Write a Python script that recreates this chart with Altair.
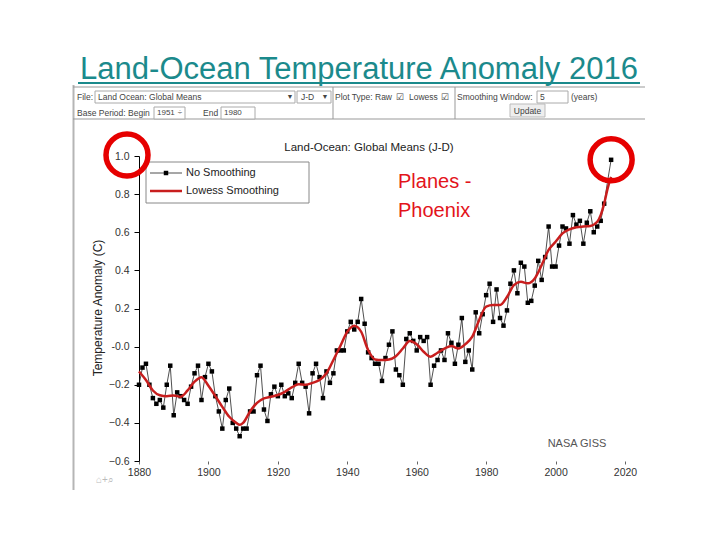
import altair as alt
import pandas as pd

FONT = "Liberation Sans"

# ---- data ----
YEARS = list(range(1880, 2017))
ANOMALY = [
    -0.20, -0.11, -0.09, -0.20, -0.27, -0.30, -0.28, -0.32, -0.20, -0.10,   # 1880s
    -0.36, -0.24, -0.26, -0.28, -0.30, -0.21, -0.14, -0.10, -0.28, -0.16,   # 1890s
    -0.09, -0.13, -0.26, -0.34, -0.43, -0.28, -0.22, -0.40, -0.43, -0.47,   # 1900s
    -0.43, -0.43, -0.34, -0.34, -0.15, -0.10, -0.33, -0.39, -0.25, -0.21,   # 1910s
    -0.26, -0.20, -0.26, -0.245, -0.27, -0.19, -0.09, -0.19, -0.21, -0.35,  # 1920s
    -0.14, -0.09, -0.16, -0.27, -0.13, -0.19, -0.14, -0.02, -0.02, -0.02,   # 1930s
    0.08, 0.13, 0.09, 0.13, 0.25, 0.12, -0.03, -0.06, -0.09, -0.09,         # 1940s
    -0.18, -0.06, 0.01, 0.08, -0.12, -0.15, -0.20, 0.04, 0.07, 0.03,        # 1950s
    -0.02, 0.05, 0.03, 0.05, -0.20, -0.10, -0.07, -0.02, -0.07, 0.07,       # 1960s
    0.02, -0.09, 0.01, 0.15, -0.08, -0.02, -0.12, 0.18, 0.07, 0.17,         # 1970s
    0.27, 0.33, 0.13, 0.30, 0.15, 0.11, 0.19, 0.33, 0.40, 0.28,             # 1980s
    0.44, 0.42, 0.23, 0.24, 0.32, 0.45, 0.35, 0.47, 0.63, 0.42,             # 1990s
    0.42, 0.53, 0.63, 0.62, 0.54, 0.69, 0.64, 0.66, 0.54, 0.65,             # 2000s
    0.71, 0.60, 0.63, 0.66, 0.75, 0.87, 0.98,                               # 2010s
]
LOWESS_YEARS = [1880, 1882, 1884, 1886, 1888, 1890, 1892, 1894, 1896, 1898,
                1900, 1902, 1904, 1906, 1908, 1909, 1910, 1912, 1914, 1916,
                1918, 1920, 1922, 1924, 1926, 1928, 1930, 1932, 1934, 1936,
                1938, 1940, 1942, 1944, 1946, 1948, 1950, 1952, 1954, 1956,
                1958, 1960, 1962, 1964, 1966, 1968, 1970, 1972, 1974, 1976,
                1978, 1980, 1982, 1984, 1986, 1988, 1990, 1992, 1994, 1996,
                1998, 2000, 2002, 2004, 2006, 2008, 2010, 2012, 2013, 2014,
                2015, 2016]
LOWESS = [-0.13, -0.175, -0.23, -0.255, -0.26, -0.256, -0.263, -0.23, -0.184, -0.16,
          -0.205, -0.26, -0.316, -0.368, -0.40, -0.41, -0.40, -0.34, -0.295, -0.272,
          -0.263, -0.254, -0.237, -0.214, -0.198, -0.20, -0.19, -0.175, -0.14, -0.07,
          0.003, 0.078, 0.11, 0.078, -0.018, -0.067, -0.07, -0.067, -0.05, -0.01,
          0.03, 0.013, -0.027, -0.053, -0.032, -0.01, 0.003, -0.01, 0.013, 0.052,
          0.14, 0.21, 0.218, 0.218, 0.26, 0.323, 0.34, 0.332, 0.358, 0.428,
          0.507, 0.55, 0.594, 0.615, 0.626, 0.63, 0.633, 0.655, 0.69, 0.75,
          0.83, 0.89]
X_TICKS = [1880, 1900, 1920, 1940, 1960, 1980, 2000, 2020]
Y_TICKS = [-0.6, -0.4, -0.2, 0.0, 0.2, 0.4, 0.6, 0.8, 1.0]

df = pd.DataFrame({"year": YEARS, "anom": ANOMALY})
lw = pd.DataFrame({"year": LOWESS_YEARS, "anom": LOWESS})
last = df.tail(1)
one = pd.DataFrame({"k": [0]})

xs = alt.Scale(domain=[1880, 2020], nice=False, zero=False)
ys = alt.Scale(domain=[-0.6, 1.0], nice=False, zero=False)

X_AXIS = alt.Axis(values=X_TICKS, format="d", domain=False, grid=False, tickSize=3,
                  tickColor="#666", labelFontSize=10.5, labelColor="#333",
                  labelPadding=3, labelFont=FONT, title=None, tickCount=30,
                  labelFlush=False, labelOverlap=False)
Y_AXIS = alt.Axis(values=Y_TICKS, grid=False, domainColor="#000", tickColor="#000",
                  tickSize=5, labelPadding=5, labelFontSize=10.5, labelColor="#333",
                  labelFont=FONT, title=None, labelFlush=False, labelOverlap=False,
                  tickCount=30,
                  labelExpr="abs(datum.value) < 1e-9 ? '-0.0' : format(datum.value, '.1f')")


def txt(s, x, y, size, color="#444", align="left", baseline="middle", **kw):
    return alt.Chart(one).mark_text(text=s, align=align, baseline=baseline,
                                    fontSize=size, color=color, font=FONT, **kw
                                    ).encode(x=alt.value(x), y=alt.value(y))


def hline(x1, x2, y, color="#999", w=1):
    return alt.Chart(one).mark_rule(color=color, strokeWidth=w).encode(
        x=alt.value(x1), x2=alt.value(x2), y=alt.value(y))


def vline(x, y1, y2, color="#999", w=1):
    return alt.Chart(one).mark_rule(color=color, strokeWidth=w).encode(
        x=alt.value(x), y=alt.value(y1), y2=alt.value(y2))


def box(x1, x2, y1, y2, fill="#fff", stroke="#aaa"):
    return alt.Chart(one).mark_rect(fill=fill, stroke=stroke, strokeWidth=1).encode(
        x=alt.value(x1), x2=alt.value(x2), y=alt.value(y1), y2=alt.value(y2))


def xenc():
    return alt.X("year:Q", scale=xs, axis=X_AXIS)


def yenc():
    return alt.Y("anom:Q", scale=ys, axis=Y_AXIS)


layers = []
# screenshot frame and control bar
layers += [
    vline(-65.5, -71, 334, color="#b5b5b5", w=2),
    hline(-66, 506, -69, color="#999"),
    hline(-66, 506, -37, color="#999"),
    vline(194, -69, -37, color="#999"),
    vline(316, -69, -37, color="#999"),
    txt("File:", -62, -59, 8.5),
    box(-44, 156, -65, -53),
    txt("Land Ocean: Global Means", -41, -59, 8.5),
    txt("▼", 151, -59, 7, align="center"),
    box(158, 192, -65, -53),
    txt("J-D", 162, -59, 8.5),
    txt("▼", 186, -59, 7, align="center"),
    txt("Plot Type: Raw", 196, -59, 8.5),
    txt("☑", 261, -59, 9, align="center"),
    txt("Lowess", 270, -59, 8.5),
    txt("☑", 306, -59, 9, align="center"),
    txt("Smoothing Window:", 318, -59, 8.5),
    box(398, 429, -65, -53),
    txt("5", 401, -59, 8.5),
    txt("(years)", 432, -59, 8.5),
    txt("Base Period: Begin", -62, -43, 8.5),
    box(15, 46, -49, -37),
    txt("1951", 18, -43, 8),
    txt("÷", 41, -43, 8, align="center"),
    txt("End", 64, -43, 8.5),
    box(82, 116, -49, -37),
    txt("1980", 85, -43, 8),
    box(371, 406, -52, -39, fill="#eeeeee", stroke="#bbb"),
    txt("Update", 388.5, -45.5, 8.5, align="center"),
    txt("⌂+⌕", -43, 324, 10, color="#bbbbbb"),
]
# slide title
layers += [
    txt("Land-Ocean Temperature Anomaly 2016", 220, -77, 31, color="#1b8a8c",
        align="center", baseline="alphabetic"),
    hline(-61, 501, -73, color="#1b8a8c", w=2),
]
# chart title, axis title, credit
layers += [
    txt("Land-Ocean: Global Means (J-D)", 230, -8, 11.5, color="#222", align="center"),
    txt("Temperature Anomaly (C)", -41, 152, 12, color="#222", align="center", angle=270),
    txt("NASA GISS", 438, 288, 11, color="#555", align="center"),
]
# legend
layers += [
    box(7, 170, 6, 47, fill="#fff", stroke="#888"),
    hline(11, 43, 17, color="#222", w=0.8),
    alt.Chart(one).mark_point(shape="square", filled=True, size=20, color="#000", opacity=1
                              ).encode(x=alt.value(27), y=alt.value(17)),
    hline(11, 43, 35, color="#c81e1e", w=2.5),
    txt("No Smoothing", 47, 17, 11, color="#222"),
    txt("Lowess Smoothing", 47, 35, 11, color="#222"),
]
# data
layers += [
    alt.Chart(df).mark_line(color="#222", strokeWidth=0.8).encode(x=xenc(), y=yenc()),
    alt.Chart(df).mark_point(shape="square", filled=True, size=20, color="#000", opacity=1
                             ).encode(x=xenc(), y=yenc()),
    alt.Chart(lw).mark_line(color="#c81e1e", strokeWidth=2.5, interpolate="monotone"
                            ).encode(x=xenc(), y=yenc()),
]
# red highlight circles and annotation
layers += [
    alt.Chart(one).mark_point(shape="circle", size=1764, filled=False, stroke="#e60000",
                              strokeWidth=5.5, opacity=1).encode(x=alt.value(-12), y=alt.value(-1)),
    alt.Chart(last).mark_point(shape="circle", size=1764, filled=False, stroke="#e60000",
                               strokeWidth=5.5, opacity=1).encode(x=xenc(), y=yenc()),
    txt("Planes -", 259, 32, 20, color="#e3141b", baseline="alphabetic"),
    txt("Phoenix", 259, 61, 20, color="#e3141b", baseline="alphabetic"),
]

chart = alt.layer(*layers).properties(
    width=486, height=305, autosize="none",
    padding={"left": 131, "top": 148, "right": 80, "bottom": 60},
    background="white",
).configure_view(stroke=None)

chart.save("out.html", embed_options={"renderer": "svg", "actions": False})
